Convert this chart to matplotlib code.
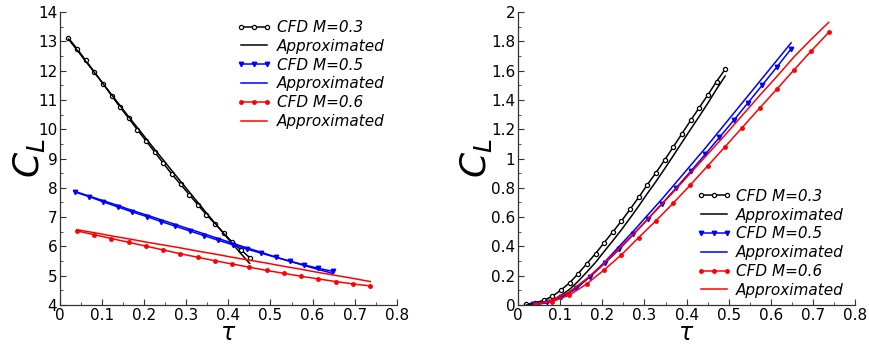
import matplotlib
matplotlib.use("Agg")
import matplotlib.pyplot as plt
from matplotlib.ticker import MultipleLocator

# ---------------- data ----------------
tau_m03 = [0.02, 0.0405, 0.061, 0.0815, 0.102, 0.1225, 0.143, 0.1635, 0.184, 0.2045,
           0.225, 0.2455, 0.266, 0.2865, 0.307, 0.3275, 0.348, 0.3685, 0.389, 0.4095,
           0.43, 0.4505]
# left panel
cl_cfd_m03_left = [13.11, 12.75, 12.35, 11.96, 11.56, 11.15, 10.75, 10.37, 9.98, 9.60,
                   9.22, 8.84, 8.46, 8.12, 7.77, 7.42, 7.08, 6.77, 6.45, 6.14, 5.88, 5.62]
cl_app_m03_left = [13.08, 12.70, 12.32, 11.94, 11.56, 11.18, 10.80, 10.42, 10.05, 9.68,
                   9.31, 8.95, 8.58, 8.22, 7.86, 7.50, 7.14, 6.79, 6.44, 6.09, 5.75, 5.42]

tau_m05 = [0.035, 0.069, 0.103, 0.137, 0.171, 0.206, 0.24, 0.274, 0.308, 0.342,
           0.376, 0.41, 0.444, 0.478, 0.512, 0.546, 0.58, 0.614, 0.648]
cl_cfd_m05_left = [7.86, 7.70, 7.52, 7.35, 7.18, 7.02, 6.85, 6.69, 6.53, 6.37,
                   6.21, 6.06, 5.91, 5.77, 5.63, 5.50, 5.37, 5.25, 5.15]
cl_app_m05_left = [7.88, 7.72, 7.56, 7.40, 7.23, 7.07, 6.91, 6.75, 6.59, 6.43,
                   6.27, 6.11, 5.95, 5.80, 5.64, 5.49, 5.35, 5.21, 5.08]

tau_m06 = [0.04, 0.081, 0.122, 0.163, 0.204, 0.245, 0.286, 0.327, 0.368, 0.409,
           0.45, 0.491, 0.532, 0.573, 0.614, 0.655, 0.696, 0.737]
cl_cfd_m06_left = [6.53, 6.40, 6.27, 6.14, 6.01, 5.88, 5.75, 5.63, 5.51, 5.40,
                   5.29, 5.18, 5.08, 4.98, 4.89, 4.80, 4.72, 4.65]
cl_app_m06_left = [6.57, 6.47, 6.36, 6.26, 6.15, 6.05, 5.95, 5.84, 5.74, 5.63,
                   5.53, 5.43, 5.32, 5.22, 5.11, 5.01, 4.91, 4.80]

# right panel
tau_m03_right = [0.02, 0.0405, 0.061, 0.0815, 0.102, 0.1225, 0.143, 0.1635, 0.184, 0.2045,
                 0.225, 0.2455, 0.266, 0.2865, 0.307, 0.3275, 0.348, 0.3685, 0.389, 0.4095,
                 0.43, 0.4505, 0.471, 0.4915]
cl_cfd_m03_right = [0.005, 0.015, 0.032, 0.059, 0.102, 0.152, 0.215, 0.283, 0.351, 0.426,
                    0.499, 0.574, 0.654, 0.736, 0.822, 0.904, 0.991, 1.080, 1.170, 1.260,
                    1.348, 1.435, 1.526, 1.610]
cl_app_m03_right = [0.0, 0.005, 0.015, 0.033, 0.066, 0.107, 0.163, 0.226, 0.291, 0.366,
                    0.439, 0.514, 0.594, 0.676, 0.762, 0.844, 0.931, 1.020, 1.110, 1.200,
                    1.288, 1.379, 1.474, 1.563]
cl_cfd_m05_right = [0.007, 0.023, 0.057, 0.114, 0.194, 0.285, 0.380, 0.483, 0.587, 0.693,
                    0.802, 0.914, 1.028, 1.145, 1.262, 1.382, 1.503, 1.625, 1.749]
cl_app_m05_right = [0.0, 0.015, 0.050, 0.110, 0.195, 0.295, 0.400, 0.505, 0.615, 0.725,
                    0.840, 0.955, 1.070, 1.190, 1.310, 1.430, 1.550, 1.670, 1.790]
cl_cfd_m06_right = [0.007, 0.023, 0.068, 0.144, 0.239, 0.342, 0.460, 0.574, 0.695, 0.820,
                    0.950, 1.080, 1.212, 1.344, 1.474, 1.606, 1.736, 1.861]
cl_app_m06_right = [0.0, 0.035, 0.090, 0.180, 0.285, 0.400, 0.520, 0.645, 0.770, 0.900,
                    1.030, 1.160, 1.295, 1.430, 1.560, 1.695, 1.815, 1.930]

labels = ["CFD M=0.3", "Approximated", "CFD M=0.5", "Approximated", "CFD M=0.6", "Approximated"]

# ---------------- figure ----------------
fig = plt.figure(figsize=(8.7, 3.46), dpi=100)
ax1 = fig.add_axes([0.069, 0.1185, 0.387, 0.8465])
ax2 = fig.add_axes([0.5954, 0.1185, 0.3876, 0.8465])

lw = 1.1


def draw(ax, s03, a03, s05, a05, s06, a06, t03):
    ax.plot(t03, s03, color="black", lw=lw, marker="o", ms=3.0, mfc="white",
            mec="black", mew=0.9, label=labels[0])
    ax.plot(t03, a03, color="black", lw=lw, label=labels[1])
    ax.plot(tau_m05, s05, color="blue", lw=lw, marker="v", ms=3.2, mfc="blue",
            mec="blue", label=labels[2])
    ax.plot(tau_m05, a05, color="blue", lw=lw, label=labels[3])
    ax.plot(tau_m06, s06, color="red", lw=lw, marker="o", ms=2.5, mfc="red",
            mec="red", label=labels[4])
    ax.plot(tau_m06, a06, color="red", lw=lw, label=labels[5])


draw(ax1, cl_cfd_m03_left, cl_app_m03_left, cl_cfd_m05_left, cl_app_m05_left,
     cl_cfd_m06_left, cl_app_m06_left, tau_m03)
draw(ax2, cl_cfd_m03_right, cl_app_m03_right, cl_cfd_m05_right, cl_app_m05_right,
     cl_cfd_m06_right, cl_app_m06_right, tau_m03_right)

ax1.set_xlim(0, 0.8)
ax1.set_ylim(4, 14)
ax1.xaxis.set_major_locator(MultipleLocator(0.1))
ax1.xaxis.set_minor_locator(MultipleLocator(0.05))
ax1.yaxis.set_major_locator(MultipleLocator(1))
ax1.yaxis.set_minor_locator(MultipleLocator(0.5))

ax2.set_xlim(0, 0.8)
ax2.set_ylim(0, 2)
ax2.xaxis.set_major_locator(MultipleLocator(0.1))
ax2.xaxis.set_minor_locator(MultipleLocator(0.05))
ax2.yaxis.set_major_locator(MultipleLocator(0.2))
ax2.yaxis.set_minor_locator(MultipleLocator(0.1))

for ax in (ax1, ax2):
    for side in ("top", "right"):
        ax.spines[side].set_visible(False)
    for side in ("left", "bottom"):
        ax.spines[side].set_color("#333333")
        ax.spines[side].set_linewidth(0.9)
    ax.tick_params(which="major", direction="in", length=4, width=0.8,
                   colors="#333333", labelcolor="black", labelsize=11, pad=2)
    ax.tick_params(which="minor", direction="in", length=2, width=0.6, colors="#333333")
    ax.xaxis.set_major_formatter(plt.FuncFormatter(lambda v, p: ("%g" % round(v, 3))))
    ax.yaxis.set_major_formatter(plt.FuncFormatter(lambda v, p: ("%g" % round(v, 3))))
    ax.set_xlabel(r"$\tau$", fontsize=17, va="center")
    ax.set_ylabel(r"$C_L$", fontsize=26)
    ax.xaxis.set_label_coords(0.5, -0.097)

ax1.yaxis.set_label_coords(-0.04, 0.5)
ax2.yaxis.set_label_coords(-0.07, 0.5)

leg_kw = dict(frameon=False, prop={"style": "italic", "size": 11}, numpoints=3,
              handlelength=2.3, handletextpad=0.3, labelspacing=0.25,
              borderpad=0, borderaxespad=0, loc="upper left")
ax1.legend(bbox_to_anchor=(0.525, 0.973), **leg_kw)
ax2.legend(bbox_to_anchor=(0.528, 0.397), **leg_kw)

fig.savefig("out.png", dpi=100, facecolor="white")
